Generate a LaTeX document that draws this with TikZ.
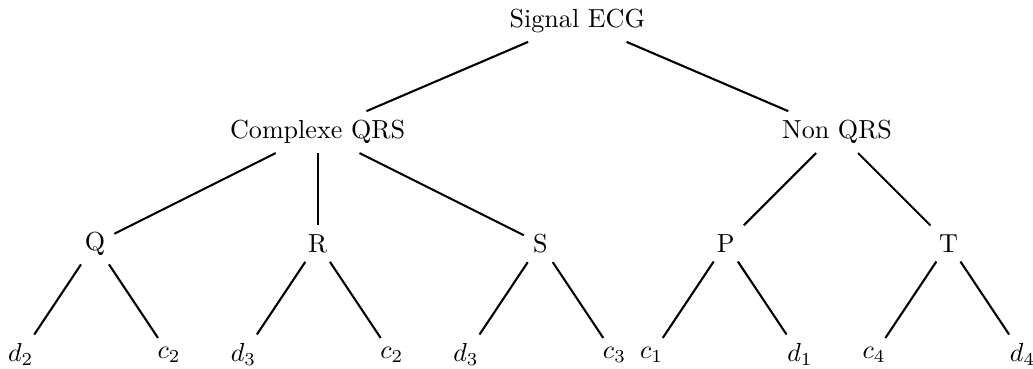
\documentclass[tikz,border=0pt]{standalone}
\begin{document}
\begin{tikzpicture}[every node/.style={inner sep=0.3333em}, link/.style={thick}]
\useasboundingbox (-1.28,0.28) rectangle (12.64,-4.68);
\node (sig) at (6.5,0) {Signal ECG};
\node (cqrs) at (3,-1.5) {Complexe QRS};
\node (nqrs) at (10,-1.5) {Non QRS};
\node (q) at (0,-3) {Q};
\node (r) at (3,-3) {R};
\node (s) at (6,-3) {S};
\node (p) at (8.5,-3) {P};
\node (t) at (11.5,-3) {T};
\node (l1) at (-1,-4.5) {$d_2$};
\node (l2) at (1,-4.5) {$c_2$};
\node (l3) at (2,-4.5) {$d_3$};
\node (l4) at (4,-4.5) {$c_2$};
\node (l5) at (5,-4.5) {$d_3$};
\node (l6) at (7,-4.5) {$c_3$};
\node (l7) at (7.5,-4.5) {$c_1$};
\node (l8) at (9.5,-4.5) {$d_1$};
\node (l9) at (10.5,-4.5) {$c_4$};
\node (l10) at (12.5,-4.5) {$d_4$};
\draw[link] (sig) -- (cqrs);
\draw[link] (sig) -- (nqrs);
\draw[link] (cqrs) -- (q);
\draw[link] (cqrs) -- (r);
\draw[link] (cqrs) -- (s);
\draw[link] (nqrs) -- (p);
\draw[link] (nqrs) -- (t);
\draw[link] (q) -- (l1);
\draw[link] (q) -- (l2);
\draw[link] (r) -- (l3);
\draw[link] (r) -- (l4);
\draw[link] (s) -- (l5);
\draw[link] (s) -- (l6);
\draw[link] (p) -- (l7);
\draw[link] (p) -- (l8);
\draw[link] (t) -- (l9);
\draw[link] (t) -- (l10);
\end{tikzpicture}
\end{document}
